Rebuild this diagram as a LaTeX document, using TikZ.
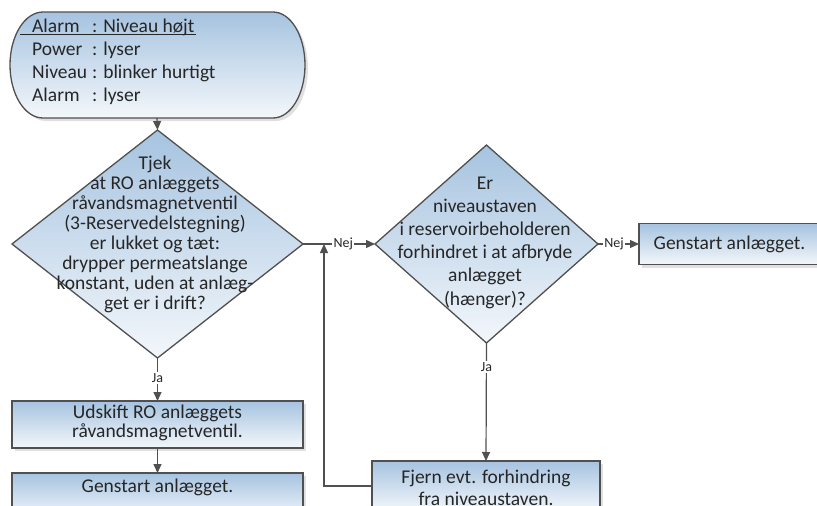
\documentclass[tikz,border=0pt]{standalone}
\usepackage{fontspec}
\setmainfont{Carlito}
\usetikzlibrary{shapes.geometric,arrows.meta,shadows}
\definecolor{fillTop}{RGB}{166,195,224}
\definecolor{fillBot}{RGB}{243,247,251}
\definecolor{edge}{RGB}{80,80,80}
\definecolor{txt}{RGB}{38,38,38}
\tikzset{
  shapefill/.style={top color=fillTop, bottom color=fillBot, draw=edge, line width=1.3pt},
  boxshadow/.style={drop shadow={shadow xshift=3pt, shadow yshift=-3pt, fill=black!12, opacity=1}},
  procbox/.style={shapefill, boxshadow, rectangle, inner sep=0pt, outer sep=0pt},
  decision/.style={shapefill, diamond, inner sep=0pt, outer sep=0pt},
  maintext/.style={text=txt, inner sep=0pt},
  flow/.style={draw=edge, line width=1.2pt, -{Triangle[length=9pt,width=8pt]}},
  lbl/.style={fill=white, text=txt, font=\fontsize{14}{14}\selectfont, inner sep=1.5pt}
}
\begin{document}
\begin{tikzpicture}[x=1pt,y=-1pt]
\useasboundingbox (0,0) rectangle (817,506);
\clip (0,0) rectangle (817,506);
\fill[white] (0,0) rectangle (817,506);

% terminator (pill)
\path[shapefill, boxshadow] (43,12) -- (273,12)
   arc[start angle=90, end angle=-90, x radius=32pt, y radius=53pt]
   -- (43,118)
   arc[start angle=270, end angle=90, x radius=33pt, y radius=53pt] -- cycle;
\coordinate (pillb) at (157,118);
% anchor "base" of a multi-line node = baseline of its last line
\node[maintext, anchor=base west, align=left, font=\fontsize{19.5}{23}\selectfont] (pilltext) at (32,101)
  {\makebox[60pt][l]{Alarm}: Niveau højt\\
   \makebox[60pt][l]{Power}: lyser\\
   \makebox[60pt][l]{Niveau}: blinker hurtigt\\
   \makebox[60pt][l]{Alarm}: lyser};
\draw[txt, line width=1pt] (20,34) -- (196,34);

% decision 1
\node[decision, minimum width=291pt, minimum height=228pt] (d1) at (157.5,244) {};
\node[maintext, anchor=base, align=center, font=\fontsize{19.5}{20}\selectfont] (d1t) at (155,309)
  {Tjek\\at RO anlæggets\\råvandsmagnetventil\\(3-Reservedelstegning)\\er lukket og tæt:\\drypper permeatslange\\konstant, uden at anlæg-\\get er i drift?};

% decision 2
\node[decision, minimum width=223pt, minimum height=198pt] (d2) at (486.5,244) {};
\node[maintext, anchor=base, align=center, font=\fontsize{19.5}{23.2}\selectfont] (d2t) at (485,305)
  {Er\\niveaustaven\\i reservoirbeholderen\\forhindret i at afbryde\\anlægget\\(hænger)?};

% process boxes
\node[procbox, minimum width=291pt, minimum height=47pt] (b1) at (157.5,424.5) {};
\node[maintext, anchor=base, align=center, font=\fontsize{19.5}{17}\selectfont] (b1t) at (157.5,437)
  {Udskift RO anlæggets\\råvandsmagnetventil.};

\node[procbox, minimum width=291pt, minimum height=46pt] (b2) at (157.5,496) {};
\node[maintext, anchor=base, font=\fontsize{19.5}{20}\selectfont] (b2t) at (157.5,492) {Genstart anlægget.};

\node[procbox, minimum width=181pt, minimum height=41pt] (b3) at (729.5,244) {};
\node[maintext, anchor=base, font=\fontsize{19.5}{20}\selectfont] (b3t) at (729.5,249) {Genstart anlægget.};

\node[procbox, minimum width=228pt, minimum height=50pt] (b4) at (486,486) {};
\node[maintext, anchor=base, align=center, font=\fontsize{19.5}{22}\selectfont] (b4t) at (486,505)
  {Fjern evt. forhindring\\fra niveaustaven.};

% connectors
\draw[flow] (pillb) -- (d1.north);
\draw[flow] (d1.south) -- node[lbl, pos=0.47] (ja1) {Ja} (b1.north);
\draw[flow] (b1.south) -- (b2.north);
\draw[flow] (d1.east) -- node[lbl, pos=0.56] (nej1) {Nej} (d2.west);
\draw[flow] (d2.east) -- node[lbl, pos=0.39] (nej2) {Nej} (b3.west);
\draw[flow] (d2.south) -- node[lbl, pos=0.2] (ja2) {Ja} (b4.north);
\coordinate (join) at (324,244);
\draw[flow] (b4.west) -| (join);
\end{tikzpicture}
\end{document}
